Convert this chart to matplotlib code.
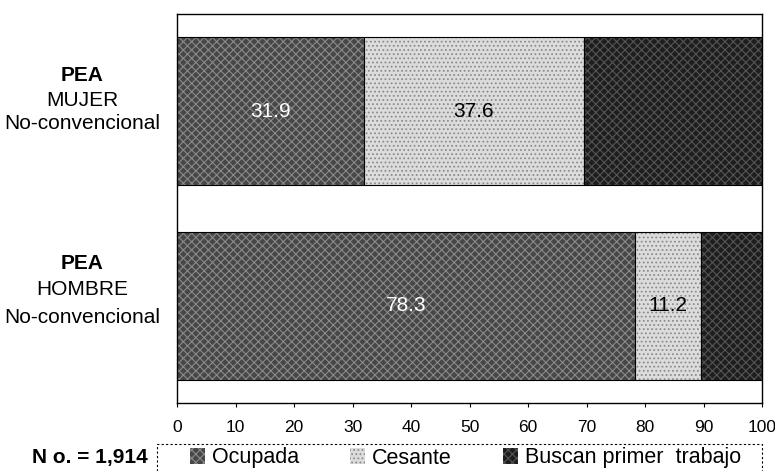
import matplotlib.pyplot as plt
from matplotlib.patches import Patch, Rectangle
from matplotlib.transforms import blended_transform_factory

# ===== Data =====
groups = ["HOMBRE", "MUJER"]            # bottom -> top
ocupada = [78.3, 31.9]
cesante = [11.2, 37.6]
buscan = [10.5, 30.5]
series_names = ["Ocupada", "Cesante", "Buscan primer  trabajo"]
x_ticks = [0, 10, 20, 30, 40, 50, 60, 70, 80, 90, 100]
n_label = "N o. = 1,914"

plt.rcParams['font.family'] = ['Liberation Sans', 'DejaVu Sans']
plt.rcParams['hatch.linewidth'] = 0.8

# ===== Styles (scanned b/w print look) =====
styles = [
    dict(color="#474747", hatch="xxxx", edgecolor="#8a8a8a"),
    dict(color="#dcdcdc", hatch="....", edgecolor="#8c8c8c"),
    dict(color="#1e1e1e", hatch="xxxx", edgecolor="#555555"),
]
text_colors = ["white", "black"]

fig = plt.figure(figsize=(7.75, 4.71), dpi=100)
ax = fig.add_axes([177 / 775, 1 - 403 / 471, 585 / 775, 389 / 471])

ypos = list(range(len(groups)))
bar_h = 0.76
left = [0] * len(groups)
for vals, st in zip([ocupada, cesante, buscan], styles):
    ax.barh(ypos, vals, left=left, height=bar_h, color=st["color"],
            hatch=st["hatch"], edgecolor=st["edgecolor"], linewidth=0)
    ax.barh(ypos, vals, left=left, height=bar_h, fill=False,
            edgecolor="black", linewidth=0.8)
    left = [l + v for l, v in zip(left, vals)]

# value labels for first two series
left = [0] * len(groups)
for vals, tc in zip([ocupada, cesante], text_colors):
    for y, l, v in zip(ypos, left, vals):
        ax.text(l + v / 2, y, f"{v:.1f}", ha="center", va="center",
                color=tc, fontsize=15)
    left = [l + v for l, v in zip(left, vals)]

ax.set_xlim(0, 100)
ax.set_ylim(-0.5, 1.5)
ax.set_xticks(x_ticks)
ax.set_xticklabels([str(t) for t in x_ticks], fontsize=12.5)
ax.set_yticks([])
ax.tick_params(axis="x", direction="out", length=3, width=0.8, pad=9)
for sp in ax.spines.values():
    sp.set_linewidth(1)
    sp.set_color("black")

# category labels
tr = blended_transform_factory(fig.transFigure, ax.transData)
xc = 82 / 775
offsets = {"MUJER": [0.185, 0.056, -0.062], "HOMBRE": [0.215, 0.082, -0.062]}
for y, g in zip(ypos, groups):
    o = offsets[g]
    ax.text(xc, y + o[0], "PEA", transform=tr, ha="center", va="center",
            fontsize=15, fontweight="bold")
    ax.text(xc, y + o[1], g, transform=tr, ha="center", va="center",
            fontsize=15)
    ax.text(xc, y + o[2], "No-convencional", transform=tr, ha="center",
            va="center", fontsize=15)

# legend box (dashed, runs off the bottom edge as in the scan)
fig.patches.append(Rectangle((157 / 775, -0.05), 605 / 775, 1 - 444 / 471 + 0.05,
                             transform=fig.transFigure, fill=False,
                             edgecolor="black", linewidth=0.8,
                             linestyle=(0, (2, 2))))

handles = [Patch(facecolor=st["color"], hatch=st["hatch"],
                 edgecolor=st["edgecolor"], linewidth=0) for st in styles]
fig.legend(handles, series_names, loc="center left", ncol=3,
           bbox_to_anchor=(190 / 775, 1 - 458 / 471),
           borderaxespad=0, borderpad=0, fontsize=15.5,
           handlelength=0.7, handleheight=0.7, handletextpad=0.3,
           columnspacing=2.4, frameon=False)

fig.text(148 / 775, 1 - 457 / 471, n_label, ha="right", va="center",
         fontsize=15, fontweight="bold")

fig.savefig("out.png", dpi=100)
